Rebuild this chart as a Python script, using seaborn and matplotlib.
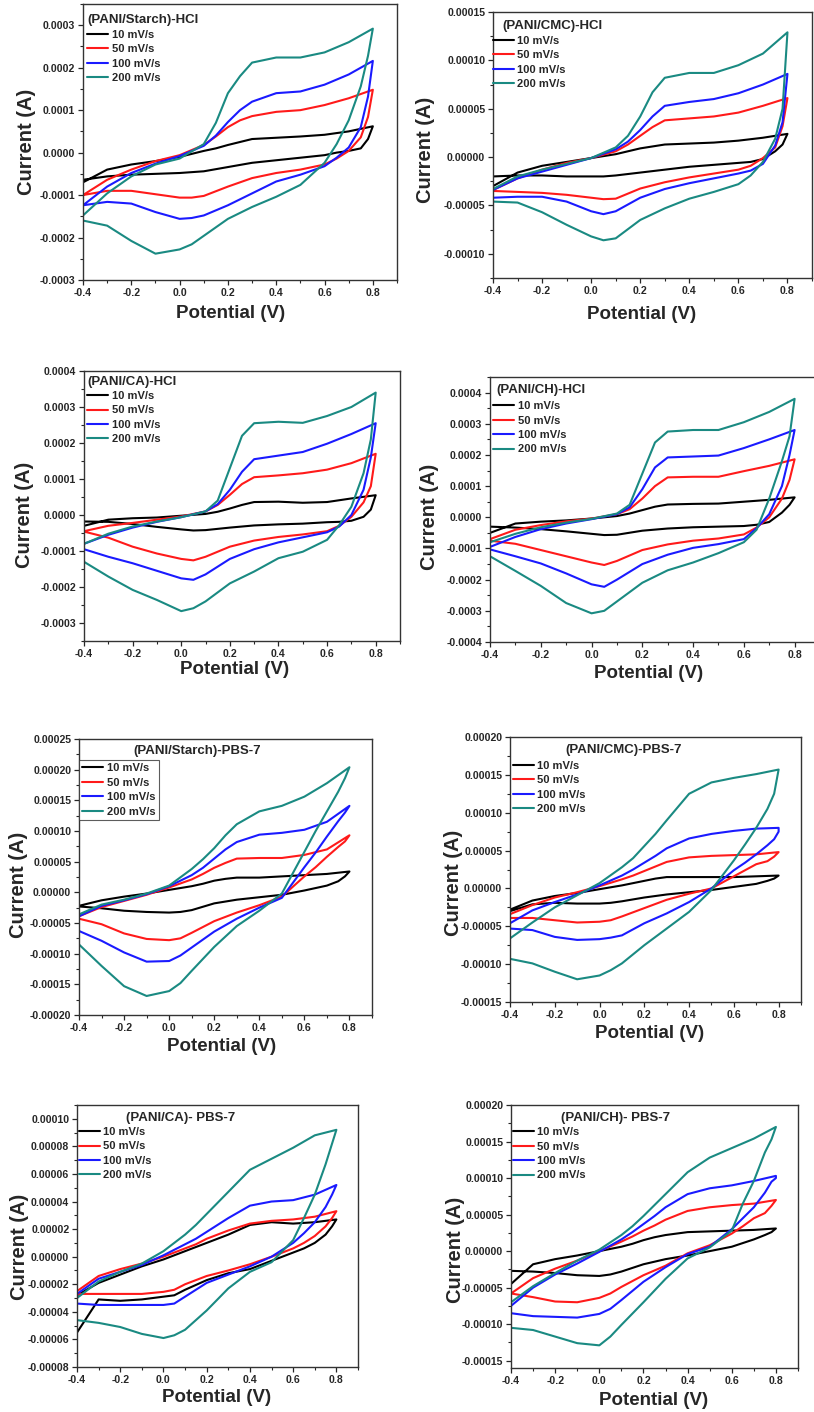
import pandas as pd
import matplotlib
matplotlib.use("Agg")
import matplotlib.pyplot as plt
import seaborn as sns
from matplotlib.ticker import MultipleLocator, FuncFormatter

sns.set_style("ticks")
plt.rcParams['font.family'] = ['Liberation Sans', 'DejaVu Sans']
plt.rcParams['font.weight'] = 'bold'

RATES = ["10 mV/s", "50 mV/s", "100 mV/s", "200 mV/s"]
COLORS = ["#000000", "#ff1a1a", "#1a1aff", "#1a8a82"]

# potential grid (V): anodic sweep, then cathodic sweep back
E_FWD = [-0.4, -0.3, -0.2, -0.1, 0.0, 0.1, 0.15, 0.2, 0.25, 0.3, 0.4, 0.5, 0.6, 0.7, 0.8]
E_REV = [0.8, 0.78, 0.75, 0.7, 0.65, 0.6, 0.5, 0.4, 0.3, 0.2, 0.1, 0.05, 0.0, -0.1, -0.2, -0.3, -0.4]

# currents, in units of 1e-5 A (rows: 10, 50, 100, 200 mV/s)
STARCH_HCL_FWD = [
    [-7.0, -4.0, -2.8, -2.0, -1.0, 0.4, 1.0, 1.8, 2.5, 3.2, 3.5, 3.8, 4.2, 5.0, 6.2],
    [-10, -6.4, -4.0, -2.0, -0.6, 1.8, 3.8, 6.0, 7.6, 8.6, 9.6, 10.0, 11.2, 12.8, 14.8],
    [-12.4, -8.0, -4.8, -2.6, -0.8, 1.6, 4.0, 7.2, 10.0, 12.0, 14.0, 14.4, 16.0, 18.4, 21.6],
    [-14.8, -9.6, -5.6, -2.8, -1.4, 2.0, 7.0, 14.0, 18.0, 21.2, 22.4, 22.4, 23.6, 26.0, 29.2],
]
STARCH_HCL_REV = [
    [6.2, 3.2, 1.0, 0.4, 0.0, -0.6, -1.2, -1.8, -2.4, -3.4, -4.4, -4.6, -4.8, -5.0, -5.2, -5.6, -6.4],
    [14.8, 8.4, 3.6, 0.4, -1.4, -2.8, -4.0, -4.8, -6.0, -8.0, -10.2, -10.6, -10.6, -9.8, -9.0, -9.0, -10],
    [21.6, 13.2, 6.0, 1.2, -1.2, -3.2, -5.2, -6.8, -9.6, -12.4, -14.8, -15.4, -15.6, -14.0, -12.0, -11.6, -12.4],
    [29.2, 22.8, 15.6, 7.6, 2.0, -2.4, -7.6, -10.4, -12.8, -15.6, -19.6, -21.6, -22.8, -23.8, -20.8, -17.2, -16.0],
]

CMC_HCL_FWD = [
    [-3.0, -1.6, -0.9, -0.5, -0.1, 0.3, 0.6, 0.9, 1.1, 1.3, 1.4, 1.5, 1.7, 2.0, 2.4],
    [-3.4, -2.2, -1.3, -0.6, -0.1, 0.6, 1.3, 2.2, 3.1, 3.8, 4.0, 4.2, 4.6, 5.3, 6.1],
    [-3.4, -2.2, -1.5, -0.8, -0.1, 0.8, 1.6, 2.8, 4.2, 5.3, 5.7, 6.0, 6.6, 7.5, 8.6],
    [-3.3, -2.0, -1.3, -0.7, -0.1, 1.0, 2.2, 4.2, 6.7, 8.2, 8.7, 8.7, 9.5, 10.7, 12.9],
]
CMC_HCL_REV = [
    [2.4, 1.3, 0.6, -0.2, -0.5, -0.6, -0.8, -1.0, -1.3, -1.6, -1.9, -2.0, -2.0, -2.0, -1.9, -1.9, -2.0],
    [6.1, 3.2, 1.0, -0.1, -0.9, -1.3, -1.7, -2.1, -2.6, -3.25, -4.3, -4.35, -4.2, -3.9, -3.7, -3.6, -3.5],
    [8.6, 3.6, 1.2, -0.7, -1.4, -1.7, -2.2, -2.7, -3.3, -4.2, -5.6, -5.9, -5.6, -4.6, -4.1, -4.1, -4.2],
    [12.9, 5.0, 1.9, -0.5, -1.9, -2.8, -3.6, -4.3, -5.3, -6.5, -8.4, -8.6, -8.2, -7.0, -5.7, -4.7, -4.6],
]

CA_HCL_FWD = [
    [-3.0, -1.3, -0.9, -0.7, -0.2, 0.3, 0.9, 1.8, 2.8, 3.6, 3.7, 3.4, 3.6, 4.6, 5.5],
    [-4.5, -3.0, -2.2, -1.3, -0.4, 1.0, 2.8, 5.6, 8.6, 10.5, 11.0, 11.6, 12.6, 14.4, 17.0],
    [-8.0, -5.5, -3.5, -1.9, -0.6, 1.0, 3.0, 7.0, 12.0, 15.5, 16.5, 17.5, 19.8, 22.5, 25.5],
    [-8.0, -5.2, -3.2, -1.8, -0.6, 1.0, 4.0, 13.0, 22.0, 25.5, 25.9, 25.6, 27.5, 30.0, 34.0],
]
CA_HCL_REV = [
    [5.5, 1.5, -0.5, -1.6, -1.9, -2.0, -2.4, -2.6, -2.9, -3.5, -4.2, -4.3, -4.0, -3.3, -2.5, -1.9, -1.8],
    [17.0, 8.0, 3.5, -0.5, -3.0, -4.5, -5.4, -6.1, -7.1, -8.8, -11.6, -12.6, -12.2, -10.7, -8.8, -6.3, -4.6],
    [25.5, 16.0, 7.0, 0.0, -3.2, -4.8, -6.2, -7.6, -9.5, -12.2, -16.5, -18.0, -17.6, -15.5, -13.4, -11.6, -9.5],
    [34.0, 21.0, 11.6, 2.3, -2.8, -6.9, -10.2, -12.0, -15.7, -19.0, -24.0, -25.9, -26.7, -23.6, -20.8, -17.1, -13.0],
]

CH_HCL_FWD = [
    [-5.0, -2.0, -1.4, -1.0, -0.4, 0.4, 1.2, 2.3, 3.4, 4.1, 4.3, 4.4, 5.0, 5.6, 6.4],
    [-7.0, -4.0, -2.5, -1.3, -0.4, 1.0, 2.6, 6.0, 10.0, 12.8, 13.0, 13.0, 14.8, 16.5, 18.6],
    [-9.5, -6.3, -3.8, -2.0, -0.6, 1.0, 3.2, 9.0, 16.0, 19.2, 19.5, 19.8, 22.2, 25.0, 28.0],
    [-8.0, -5.3, -3.2, -1.7, -0.5, 1.2, 4.0, 14.0, 24.0, 27.5, 28.0, 28.0, 30.5, 33.8, 38.0],
]
CH_HCL_REV = [
    [6.4, 4.0, 1.5, -1.5, -2.4, -2.8, -3.0, -3.2, -3.6, -4.3, -5.6, -5.7, -5.3, -4.5, -3.8, -3.3, -3.0],
    [18.6, 12.0, 6.0, 0.0, -3.3, -5.5, -6.8, -7.5, -8.7, -10.5, -14.0, -15.3, -14.5, -12.5, -10.5, -8.5, -7.5],
    [28.0, 20.0, 10.0, 1.0, -3.5, -7.0, -8.6, -9.8, -12.0, -15.0, -20.0, -22.3, -21.5, -18.0, -14.8, -12.5, -10.3],
    [38.0, 26.0, 18.0, 6.0, -4.0, -8.0, -11.5, -14.5, -17.0, -21.0, -27.0, -30.0, -30.8, -27.5, -22.0, -17.2, -12.5],
]

STARCH_PBS_FWD = [
    [-2.2, -1.3, -0.7, -0.2, 0.4, 1.0, 1.4, 1.9, 2.2, 2.4, 2.4, 2.6, 2.8, 3.0, 3.4],
    [-3.9, -2.4, -1.4, -0.4, 0.8, 2.1, 3.0, 4.0, 4.8, 5.5, 5.6, 5.6, 6.1, 7.0, 9.3],
    [-3.9, -2.2, -1.3, -0.3, 1.0, 2.8, 4.0, 5.5, 7.0, 8.2, 9.4, 9.7, 10.2, 11.5, 14.1],
    [-3.6, -2.0, -1.2, -0.2, 1.1, 3.8, 5.4, 7.2, 9.3, 11.1, 13.2, 14.1, 15.6, 17.8, 20.4],
]
STARCH_PBS_REV = [
    [3.4, 2.6, 1.8, 1.1, 0.7, 0.3, -0.4, -0.8, -1.2, -1.8, -2.9, -3.2, -3.3, -3.2, -3.0, -2.6, -2.3],
    [9.3, 8.3, 7.4, 5.8, 4.1, 2.6, -0.7, -2.1, -3.3, -4.7, -6.6, -7.5, -7.8, -7.6, -6.7, -5.2, -4.3],
    [14.1, 13.0, 11.6, 9.1, 6.5, 4.1, -0.9, -2.5, -4.3, -6.4, -9.0, -10.3, -11.2, -11.3, -9.8, -7.9, -6.3],
    [20.4, 18.6, 16.4, 13.2, 10.0, 6.6, -0.2, -3.0, -5.5, -8.9, -12.8, -14.8, -16.1, -16.9, -15.3, -12.0, -8.5],
]

CMC_PBS_FWD = [
    [-2.8, -1.6, -1.0, -0.6, -0.1, 0.4, 0.7, 1.0, 1.3, 1.5, 1.5, 1.5, 1.5, 1.6, 1.7],
    [-3.4, -2.2, -1.2, -0.5, 0.3, 1.2, 1.7, 2.3, 2.9, 3.5, 4.1, 4.3, 4.4, 4.5, 4.8],
    [-4.6, -2.9, -1.8, -0.8, 0.4, 1.7, 2.5, 3.4, 4.3, 5.3, 6.6, 7.2, 7.6, 7.9, 8.0],
    [-6.6, -4.5, -2.5, -0.9, 0.7, 2.8, 4.0, 5.6, 7.2, 9.0, 12.5, 14.0, 14.6, 15.1, 15.7],
]
CMC_PBS_REV = [
    [1.7, 1.3, 1.0, 0.6, 0.4, 0.2, -0.2, -0.5, -0.8, -1.2, -1.7, -1.9, -2.0, -2.0, -1.9, -2.1, -3.0],
    [4.8, 4.2, 3.6, 3.2, 2.4, 1.6, 0.0, -0.7, -1.5, -2.6, -3.7, -4.2, -4.4, -4.5, -4.2, -3.9, -3.9],
    [7.5, 6.5, 5.7, 4.5, 3.4, 2.4, 0.0, -1.8, -3.3, -4.6, -6.2, -6.5, -6.7, -6.8, -6.4, -5.5, -5.3],
    [15.7, 12.5, 10.5, 8.0, 5.8, 3.7, -0.2, -3.1, -5.3, -7.5, -9.9, -10.8, -11.5, -12.0, -11.0, -9.9, -9.3],
]

CA_PBS_FWD = [
    [-2.8, -1.9, -1.3, -0.7, -0.2, 0.4, 0.7, 1.0, 1.3, 1.6, 2.3, 2.5, 2.4, 2.5, 2.7],
    [-2.5, -1.4, -0.9, -0.5, 0.0, 0.6, 0.9, 1.3, 1.6, 1.9, 2.4, 2.6, 2.7, 2.9, 3.3],
    [-2.7, -1.6, -1.1, -0.6, 0.1, 0.9, 1.3, 1.8, 2.3, 2.8, 3.7, 4.0, 4.1, 4.5, 5.2],
    [-3.0, -1.8, -1.1, -0.5, 0.4, 1.6, 2.3, 3.1, 3.9, 4.7, 6.3, 7.1, 7.9, 8.8, 9.2],
]
CA_PBS_REV = [
    [2.7, 2.2, 1.6, 1.0, 0.6, 0.3, -0.3, -0.9, -1.2, -1.7, -2.4, -2.8, -2.9, -3.1, -3.2, -3.1, -5.5],
    [3.3, 2.8, 2.2, 1.5, 1.0, 0.6, 0.0, -0.55, -1.0, -1.4, -2.0, -2.4, -2.55, -2.7, -2.7, -2.7, -2.7],
    [5.2, 4.5, 3.6, 2.5, 1.7, 1.0, 0.0, -0.7, -1.3, -1.9, -2.9, -3.4, -3.5, -3.5, -3.5, -3.5, -3.4],
    [9.2, 8.2, 6.7, 4.5, 2.8, 1.2, -0.4, -1.1, -2.3, -3.9, -5.3, -5.7, -5.9, -5.6, -5.1, -4.8, -4.6],
]

CH_PBS_FWD = [
    [-4.5, -1.8, -1.1, -0.6, 0.0, 0.6, 1.0, 1.5, 1.9, 2.2, 2.6, 2.7, 2.8, 2.9, 3.1],
    [-5.8, -3.7, -2.4, -1.3, 0.0, 1.3, 2.0, 2.8, 3.5, 4.3, 5.5, 6.0, 6.3, 6.5, 7.0],
    [-7.5, -5.0, -3.2, -1.7, -0.1, 1.6, 2.6, 3.7, 4.8, 6.0, 7.8, 8.6, 9.0, 9.6, 10.3],
    [-7.0, -4.8, -3.0, -1.3, 0.2, 2.2, 3.4, 4.8, 6.3, 7.8, 10.8, 12.8, 14.1, 15.4, 17.0],
]
CH_PBS_REV = [
    [3.1, 2.6, 2.2, 1.6, 1.1, 0.6, 0.0, -0.6, -1.1, -1.8, -2.8, -3.2, -3.4, -3.3, -3.0, -2.8, -2.7],
    [7.0, 6.2, 5.2, 4.5, 3.4, 2.4, 0.8, -0.3, -2.0, -3.3, -4.9, -5.8, -6.4, -7.0, -6.9, -6.3, -5.8],
    [10.0, 9.5, 8.0, 6.0, 4.5, 3.0, 0.6, -0.4, -2.2, -4.2, -6.7, -7.9, -8.6, -9.1, -9.0, -8.9, -8.5],
    [17.0, 15.3, 13.5, 9.6, 6.5, 2.8, 0.5, -1.0, -3.8, -7.0, -10.1, -11.7, -12.9, -12.6, -11.7, -10.8, -10.5],
]

# layout: panel box in pixels (left, top, right, bottom), axis limits, text placement
PANELS = [
    dict(title="(PANI/Starch)-HCl", fwd=STARCH_HCL_FWD, rev=STARCH_HCL_REV,
         box=(83, 4, 397, 280), ylim=(-0.0003, 0.00035), step=0.0001, fmt="%.4f",
         tpos=(0.013, 0.965, "left"), leg=(0.013, 0.906), frame=False,
         ylab=(-0.179, 0.5), xlab=(0.47, -0.12)),
    dict(title="(PANI/CMC)-HCl", fwd=CMC_HCL_FWD, rev=CMC_HCL_REV,
         box=(493, 12, 812, 278), ylim=(-0.000125, 0.00015), step=0.00005, fmt="%.5f",
         tpos=(0.03, 0.97, "left"), leg=(0.0, 0.911), frame=False,
         ylab=(-0.213, 0.48), xlab=(0.466, -0.139)),
    dict(title="(PANI/CA)-HCl", fwd=CA_HCL_FWD, rev=CA_HCL_REV,
         box=(84, 371, 400, 641), ylim=(-0.00035, 0.0004), step=0.0001, fmt="%.4f",
         tpos=(0.01, 0.98, "left"), leg=(0.01, 0.926), frame=False,
         ylab=(-0.187, 0.467), xlab=(0.478, -0.107)),
    dict(title="(PANI/CH)-HCl", fwd=CH_HCL_FWD, rev=CH_HCL_REV,
         box=(490, 377, 820, 642), ylim=(-0.0004, 0.00045), step=0.0001, fmt="%.4f",
         tpos=(0.02, 0.975, "left"), leg=(0.01, 0.909), frame=False,
         ylab=(-0.182, 0.473), xlab=(0.482, -0.118)),
    dict(title="(PANI/Starch)-PBS-7", fwd=STARCH_PBS_FWD, rev=STARCH_PBS_REV,
         box=(79, 739, 372, 1015), ylim=(-0.0002, 0.00025), step=0.00005, fmt="%.5f",
         tpos=(0.404, 0.978, "center"), leg=(0.0, 0.924), frame=True,
         ylab=(-0.207, 0.471), xlab=(0.487, -0.115)),
    dict(title="(PANI/CMC)-PBS-7", fwd=CMC_PBS_FWD, rev=CMC_PBS_REV,
         box=(510, 737, 801, 1002), ylim=(-0.00015, 0.0002), step=0.00005, fmt="%.5f",
         tpos=(0.392, 0.973, "center"), leg=(0.009, 0.91), frame=False,
         ylab=(-0.195, 0.449), xlab=(0.478, -0.118)),
    dict(title="(PANI/CA)- PBS-7", fwd=CA_PBS_FWD, rev=CA_PBS_REV,
         box=(77, 1105, 358, 1367), ylim=(-0.00008, 0.00011), step=0.00002, fmt="%.5f",
         tpos=(0.367, 0.972, "center"), leg=(0.007, 0.916), frame=False,
         ylab=(-0.203, 0.459), xlab=(0.497, -0.118)),
    dict(title="(PANI/CH)- PBS-7", fwd=CH_PBS_FWD, rev=CH_PBS_REV,
         box=(511, 1105, 798, 1368), ylim=(-0.00016, 0.0002), step=0.00005, fmt="%.5f",
         tpos=(0.365, 0.972, "center"), leg=(0.007, 0.916), frame=False,
         ylab=(-0.195, 0.449), xlab=(0.498, -0.122)),
]

W, H = 814, 1412
fig = plt.figure(figsize=(W / 100, H / 100), dpi=100)


def make_fmt(fmt, step):
    def f(v, pos):
        if abs(v) < step * 1e-3:
            v = 0.0
        return fmt % v
    return FuncFormatter(f)


for p in PANELS:
    l, t, r, b = p["box"]
    ax = fig.add_axes([l / W, 1 - b / H, (r - l) / W, (b - t) / H])

    rows = []
    for rate, f, rv in zip(RATES, p["fwd"], p["rev"]):
        for e, i in zip(E_FWD + E_REV, f + rv):
            rows.append((rate, e, i * 1e-5))
    df = pd.DataFrame(rows, columns=["rate", "E", "I"])
    sns.lineplot(data=df, x="E", y="I", hue="rate", hue_order=RATES, palette=COLORS,
                 sort=False, estimator=None, linewidth=1.5, legend=False, ax=ax)

    ax.set_xlim(-0.4, 0.9)
    ax.set_ylim(*p["ylim"])
    ax.xaxis.set_major_locator(MultipleLocator(0.2))
    ax.xaxis.set_minor_locator(MultipleLocator(0.1))
    ax.yaxis.set_major_locator(MultipleLocator(p["step"]))
    ax.yaxis.set_minor_locator(MultipleLocator(p["step"] / 2))
    ax.xaxis.set_major_formatter(make_fmt("%.1f", 0.2))
    ax.yaxis.set_major_formatter(make_fmt(p["fmt"], p["step"]))
    ax.tick_params(which="major", direction="out", length=3.5, width=0.9, labelsize=7.6, pad=2)
    ax.tick_params(which="minor", direction="out", length=2, width=0.8)
    for lab in ax.get_xticklabels() + ax.get_yticklabels():
        lab.set_fontweight("bold")
    for s in ax.spines.values():
        s.set_visible(True)
        s.set_linewidth(1.0)
        s.set_color("#333333")

    ax.set_xlabel("Potential (V)", fontsize=13.5, fontweight="bold", va="center")
    ax.set_ylabel("Current (A)", fontsize=14.5, fontweight="bold", va="center")
    ax.xaxis.set_label_coords(*p["xlab"])
    ax.yaxis.set_label_coords(*p["ylab"])

    tx, ty, tha = p["tpos"]
    ax.text(tx, ty, p["title"], transform=ax.transAxes, ha=tha, va="top",
            fontsize=9.5, fontweight="bold")

    leg = ax.legend(ax.get_lines()[:4], RATES, loc="upper left", bbox_to_anchor=p["leg"],
                    frameon=p["frame"], prop={"size": 8, "weight": "bold"},
                    handlelength=1.9, handletextpad=0.3, labelspacing=0.4,
                    borderaxespad=0, borderpad=0.3 if p["frame"] else 0,
                    fancybox=False)
    if p["frame"]:
        leg.get_frame().set_edgecolor("#333333")
        leg.get_frame().set_linewidth(0.8)

fig.savefig("out.png", dpi=100, facecolor="white")
